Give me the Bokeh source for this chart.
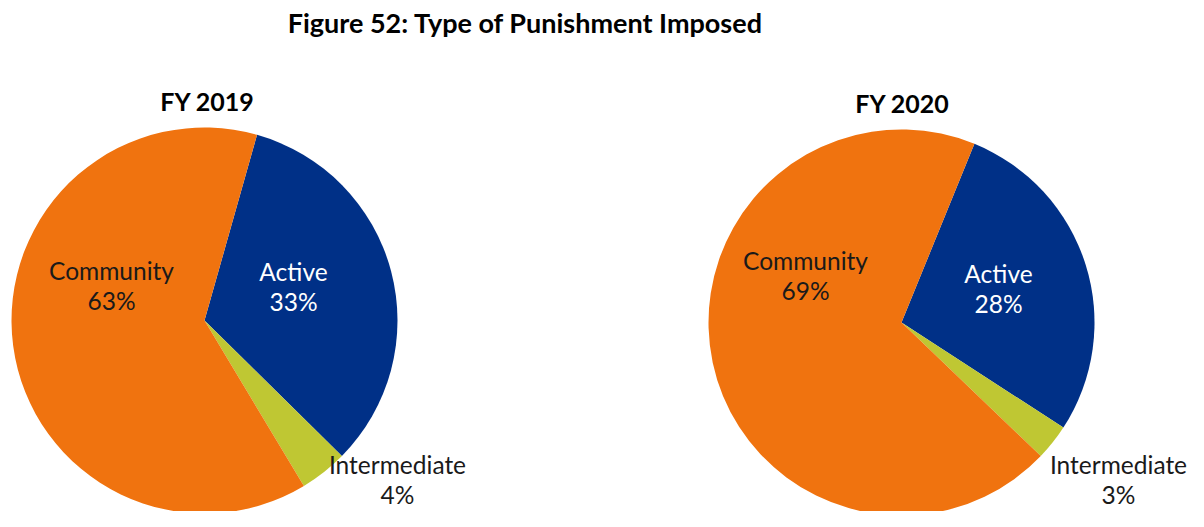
import math
from bokeh.plotting import figure
from bokeh.models import ColumnDataSource, Range1d
from bokeh.core.properties import value
from bokeh.embed import file_html
from bokeh.resources import INLINE

# ---- data ----
title = "Figure 52: Type of Punishment Imposed"
years = ["FY 2019", "FY 2020"]
categories = ["Active", "Intermediate", "Community"]
shares_2019 = [33, 4, 63]
shares_2020 = [28, 3, 69]
colors = ["#003087", "#BFC733", "#F0730F"]
label_colors = ["white", "#1a1a1a", "#1a1a1a"]

# ---- layout (picture px -> figure coords) ----
W, H = 1188, 511
def fx(px): return px
def fy(py): return H - py

FONT = "Lato"
pies = [
    dict(share=shares_2019, cx=204, cy=320, r=193, first=15.8,
         title_xy=(207, 100),
         label_off=[(89, -34), (193, 159), (-93, -35)]),
    dict(share=shares_2020, cx=901, cy=322, r=193, first=22.2,
         title_xy=(902, 102),
         label_off=[(97, -34), (217, 157), (-96, -47)]),
]

p = figure(width=W, height=H, output_backend="svg", toolbar_location=None,
           x_range=Range1d(0, W), y_range=Range1d(0, H), min_border=0)
p.axis.visible = False
p.grid.visible = False
p.outline_line_color = None
p.background_fill_color = "white"

p.text(x=[fx(525)], y=[fy(22)], text=[title], text_align="center",
       text_baseline="middle", text_font=value(FONT), text_font_style="bold",
       text_font_size="27px", text_color="#000000")

for yr, pie in zip(years, pies):
    total = sum(pie["share"])
    starts, ends = [], []
    acc = pie["first"]
    for s in pie["share"]:
        a0 = acc
        acc += 360.0 * s / total
        starts.append(math.radians(90 - a0))
        ends.append(math.radians(90 - acc))
    src = ColumnDataSource(dict(
        x=[fx(pie["cx"])] * 3, y=[fy(pie["cy"])] * 3,
        start=starts, end=ends, color=colors))
    p.wedge(x="x", y="y", radius=pie["r"], start_angle="start", end_angle="end",
            direction="clock", fill_color="color", line_color=None, source=src)

    tx, ty = pie["title_xy"]
    p.text(x=[fx(tx)], y=[fy(ty)], text=[yr], text_align="center",
           text_baseline="middle", text_font=value(FONT), text_font_style="bold",
           text_font_size="25px", text_color="#000000")

    lx, ly1, ly2, names, pcts, cols = [], [], [], [], [], []
    for cat, s, (dx, dy), c in zip(categories, pie["share"], pie["label_off"], label_colors):
        lx.append(fx(pie["cx"] + dx))
        ly1.append(fy(pie["cy"] + dy - 15))
        ly2.append(fy(pie["cy"] + dy + 15))
        names.append(cat)
        pcts.append(f"{s}%")
        cols.append(c)
    lsrc = ColumnDataSource(dict(x=lx, y1=ly1, y2=ly2, n=names, p=pcts, c=cols))
    p.text(x="x", y="y1", text="n", text_color="c", source=lsrc,
           text_align="center", text_baseline="middle",
           text_font=value(FONT), text_font_size="24.5px")
    p.text(x="x", y="y2", text="p", text_color="c", source=lsrc,
           text_align="center", text_baseline="middle",
           text_font=value(FONT), text_font_size="24.5px")

open("out.html", "w").write(file_html(p, INLINE))
